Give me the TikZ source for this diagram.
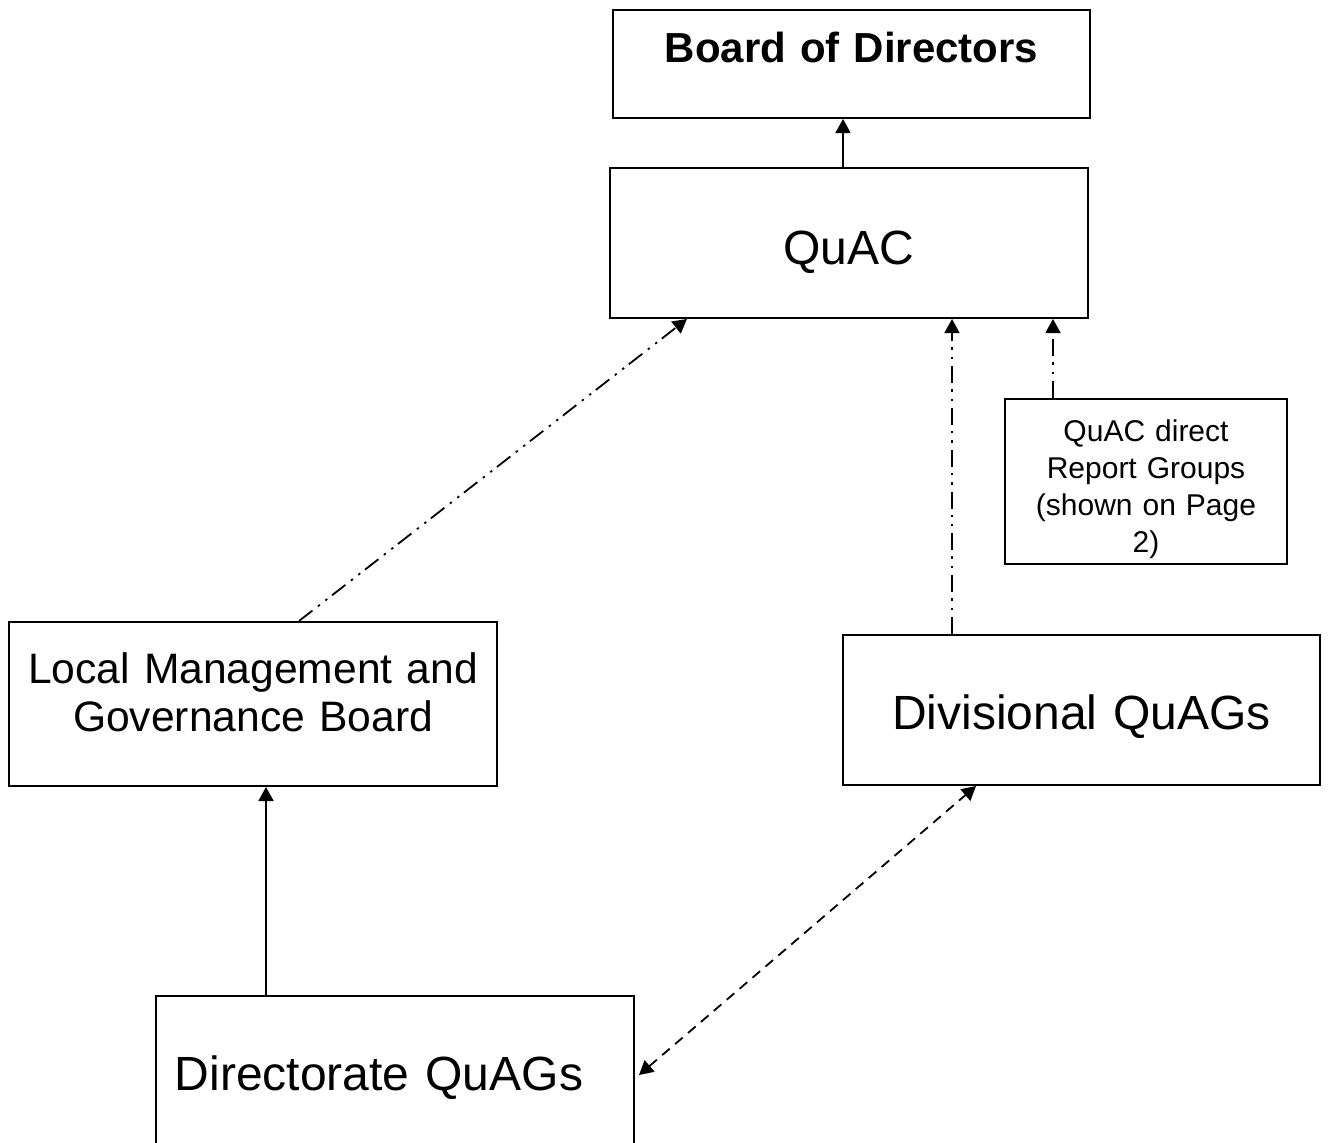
\documentclass[tikz,border=0pt]{standalone}
\usepackage{fontspec}
\setmainfont{Liberation Sans}
\usetikzlibrary{arrows.meta,calc}
\tikzset{
  box/.style={draw,line width=1pt,inner sep=0pt,align=center,anchor=north west},
  link/.style={-{Triangle[length=7pt,width=7.5pt]},line width=0.9pt},
  dashdotline/.style={link,dash pattern=on 8.5pt off 3.5pt on 1.2pt off 3.5pt on 1.2pt off 3pt},
  dashline/.style={{Triangle[length=7pt,width=7.5pt]}-{Triangle[length=7pt,width=7.5pt]},line width=0.9pt,dash pattern=on 5pt off 3.5pt}
}

\begin{document}
\begin{tikzpicture}[x=0.5pt,y=-0.5pt]
    \useasboundingbox (0,0) rectangle (1328,1142);
    \node[box,text width=238.5pt,text height=26pt,text depth=28pt,font=\fontsize{21}{24}\selectfont\bfseries] (board) at (612,9) {Board of Directors};
    \node[box,text width=239pt,text height=48pt,text depth=27pt,font=\fontsize{24}{28}\selectfont] (quac) at (609,167) {QuAC};
    \node[box,text width=141pt,text height=21pt,text depth=61.5pt,font=\fontsize{15}{18.5}\selectfont] (direct) at (1004,398) {QuAC direct\\Report Groups\\(shown on Page\\2)};
    \node[box,text width=244pt,text height=30.5pt,text depth=51.5pt,font=\fontsize{21.3}{24}\selectfont] (local) at (8,621) {Local Management and\\Governance Board};
    \node[box,text width=238.5pt,text height=47pt,text depth=28pt,font=\fontsize{24}{28}\selectfont] (divisional) at (842,634) {Divisional QuAGs};
    \node[box,text width=239pt,text height=47pt,text depth=28pt,font=\fontsize{24}{28}\selectfont] (directorate) at (155,995) {Directorate QuAGs\hspace{16pt}\mbox{}};
    \draw[link] ([xshift=-3pt]quac.north) -- ([xshift=-3pt]quac.north |- board.south);
    \draw[dashdotline] ([xshift=23pt]local.north) -- ([xshift=-81pt]quac.south);
    \draw[dashdotline] ([xshift=-64.75pt]divisional.north) -- ([xshift=-64.75pt]divisional.north |- quac.south);
    \draw[dashdotline] ([xshift=-46.5pt]direct.north) -- ([xshift=-46.5pt]direct.north |- quac.south);
    \draw[link] ([xshift=-64.5pt]directorate.north) -- ([xshift=-64.5pt]directorate.north |- local.south);
    \draw[dashline] ([xshift=2pt,yshift=-40pt]directorate.north east) -- ([xshift=-52.75pt]divisional.south);
  \end{tikzpicture}
\end{document}
